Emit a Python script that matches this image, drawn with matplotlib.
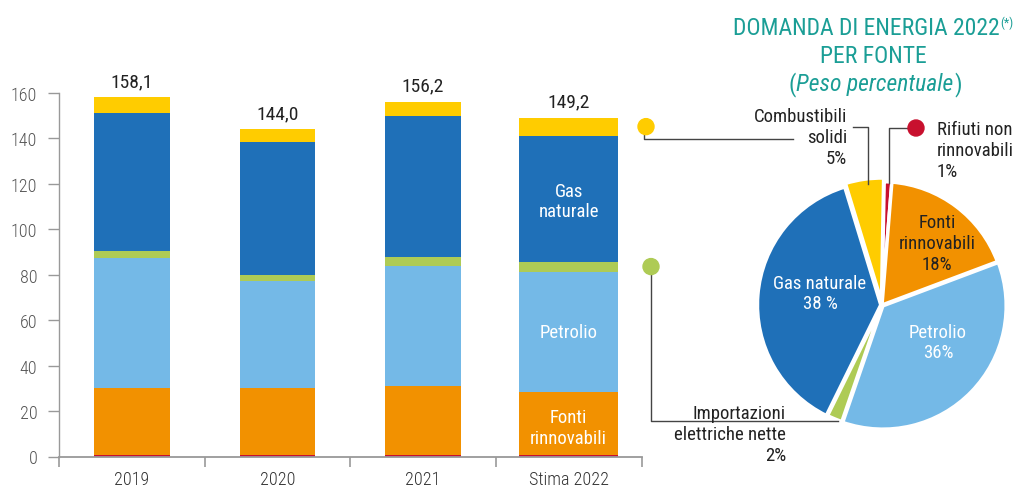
import matplotlib
matplotlib.use("Agg")
import matplotlib.pyplot as plt
from matplotlib import font_manager
from matplotlib.patches import Circle
import numpy as np

# bar chart data (Mtep)
years = ["2019", "2020", "2021", "Stima 2022"]
totals = [158.1, 144.0, 156.2, 149.2]
rifiuti = [0.6, 0.6, 0.6, 0.6]
rinnovabili = [29.5, 29.5, 30.4, 28.0]
petrolio = [57.2, 47.3, 53.0, 52.8]
importazioni = [3.3, 2.5, 4.0, 4.4]
gas = [60.7, 58.7, 61.9, 55.4]
solidi = [6.8, 5.4, 6.3, 8.0]

# pie data, 2022 shares (%)
pie_labels = ["Rifiuti non rinnovabili", "Fonti rinnovabili", "Petrolio",
              "Importazioni elettriche nette", "Gas naturale", "Combustibili solidi"]
pie_pct = [1, 18, 36, 2, 38, 5]

C_RED = "#c8102e"
C_ORANGE = "#f29100"
C_LBLUE = "#74b9e7"
C_GREEN = "#aecb55"
C_DBLUE = "#1f70b8"
C_YELLOW = "#ffcc00"
C_TEAL = "#1b9e96"
C_TEXT = "#222222"

available = {f.name for f in font_manager.fontManager.ttflist}
FONT = next((f for f in ["Roboto Condensed", "Liberation Sans Narrow", "Roboto", "DejaVu Sans"]
             if f in available), "DejaVu Sans")
plt.rcParams["font.family"] = [FONT, "DejaVu Sans"]

W, H = 1016, 489
fig = plt.figure(figsize=(W / 100, H / 100), dpi=100)


def px_box(x0, y0, x1, y1):
    # pixel box with top-left origin -> figure fraction rect
    return [x0 / W, 1 - y1 / H, (x1 - x0) / W, (y1 - y0) / H]


# ---- stacked bars ----
ax = fig.add_axes(px_box(59, 94, 641.5, 457.5))
x = np.arange(len(years))
widths = [0.52, 0.52, 0.52, 0.68]
series = [rifiuti, rinnovabili, petrolio, importazioni, gas, solidi]
colors = [C_RED, C_ORANGE, C_LBLUE, C_GREEN, C_DBLUE, C_YELLOW]
bottom = np.zeros(len(years))
cum = []
for vals, col in zip(series, colors):
    ax.bar(x, vals, width=widths, bottom=bottom, color=col, linewidth=0)
    cum.append(bottom.copy())
    bottom = bottom + np.array(vals)
cum.append(bottom.copy())

for i, tot in enumerate(totals):
    ax.annotate(f"{tot:.1f}".replace(".", ","), xy=(i, tot), xytext=(0, 8),
                textcoords="offset points", ha="center", va="baseline",
                fontsize=14, color=C_TEXT)

ax.set_xlim(-0.5, 3.5)
ax.set_ylim(0, 160)
ax.set_yticks(range(0, 161, 20))
ax.set_xticks(x)
ax.set_xticklabels(years)
ax.set_xticks([-0.5, 0.5, 1.5, 2.5, 3.5], minor=True)
ax.tick_params(axis="x", which="major", length=0, pad=10, labelsize=13, labelcolor="#333333")
ax.tick_params(axis="x", which="minor", length=7, width=1.2, color="#999999")
ax.tick_params(axis="y", length=7.6, width=1.0, color="#999999", pad=8,
               labelsize=13, labelcolor="#555555")
for lab in ax.get_yticklabels() + ax.get_xticklabels():
    lab.set_fontweight("light")
for s in ["top", "right"]:
    ax.spines[s].set_visible(False)
ax.spines["left"].set_color("#999999")
ax.spines["left"].set_linewidth(1.0)
ax.spines["bottom"].set_color("#999999")
ax.spines["bottom"].set_linewidth(1.3)

# labels inside the 2022 bar
j = 3
inner = [((cum[0][j] + cum[2][j]) / 2 - 1.5, "Fonti\nrinnovabili"),
         ((cum[2][j] + cum[3][j]) / 2, "Petrolio"),
         ((cum[4][j] + cum[5][j]) / 2 - 1, "Gas\nnaturale")]
for yv, txt in inner:
    ax.text(j, yv, txt, ha="center", va="center", color="white", fontsize=13.5,
            linespacing=1.2)

# ---- overlay in pixel coordinates for title and connectors ----
ov = fig.add_axes([0, 0, 1, 1])
ov.set_xlim(0, W)
ov.set_ylim(H, 0)
ov.axis("off")


def data_y_px(v):
    return H - ax.transData.transform((0, v))[1]


y_sol = data_y_px((cum[5][j] + cum[6][j]) / 2)
y_imp = data_y_px((cum[3][j] + cum[4][j]) / 2)
LC = "#444444"

# combustibili solidi connector
ov.plot([644, 644, 793], [y_sol, 140, 140], color=LC, lw=1.0)
ov.add_patch(Circle((646, y_sol), 8, color=C_YELLOW, zorder=3))
ov.plot([853, 868, 868], [128, 128, 185], color=LC, lw=1.0)
ov.text(847, 138, "Combustibili\nsolidi\n5%", ha="right", va="center",
        fontsize=13.5, color=C_TEXT, linespacing=1.2)

# rifiuti connector
ov.plot([910, 889, 889], [129, 129, 184], color=LC, lw=1.0)
ov.add_patch(Circle((916, 129), 8, color=C_RED, zorder=3))
ov.text(937, 151, "Rifiuti non\nrinnovabili\n1%", ha="left", va="center",
        fontsize=13.5, color=C_TEXT, linespacing=1.2)

# importazioni connector
ov.plot([651, 651, 838], [y_imp, 422, 422], color=LC, lw=1.0)
ov.add_patch(Circle((651, y_imp), 8, color=C_GREEN, zorder=3))
ov.text(786, 435, "Importazioni\nelettriche nette\n2%", ha="right", va="center",
        fontsize=13.5, color=C_TEXT, linespacing=1.2)

# title
renderer = fig.canvas.get_renderer()
t1 = ov.text(866, 35, "DOMANDA DI ENERGIA 2022", ha="center", va="baseline",
             fontsize=17, color=C_TEAL)
bb = t1.get_window_extent(renderer)
ov.text(bb.x1 + 1, 27, "(*)", ha="left", va="baseline", fontsize=9, color=C_TEAL)
ov.text(873, 63, "PER FONTE", ha="center", va="baseline", fontsize=17, color=C_TEAL)
t3 = ov.text(875, 91, "Peso percentuale", ha="center", va="baseline", fontsize=17,
             style="italic", color=C_TEAL)
bb = t3.get_window_extent(renderer)
ov.text(bb.x0 - 1, 91, "(", ha="right", va="baseline", fontsize=17, color=C_TEAL)
ov.text(bb.x1 + 1, 91, ")", ha="left", va="baseline", fontsize=17, color=C_TEAL)

# ---- pie ----
pax = fig.add_axes(px_box(755, 179, 1009, 433))
pie_colors = [C_RED, C_ORANGE, C_LBLUE, C_GREEN, C_DBLUE, C_YELLOW]
explode = [0, 0, 0.01, 0, 0.01, 0.03]
pax.pie(pie_pct, colors=pie_colors, startangle=89, counterclock=False, explode=explode,
        wedgeprops=dict(edgecolor="white", linewidth=2.5))
pax.set_xlim(-1.03, 1.03)
pax.set_ylim(-1.03, 1.03)

ov.text(937, 244, "Fonti\nrinnovabili\n18%", ha="center", va="center", fontsize=13.5,
        color=C_TEXT, linespacing=1.2, zorder=5)
ov.text(938, 343, "Petrolio\n36%", ha="center", va="center", fontsize=13.5,
        color="white", linespacing=1.2, zorder=5)
ov.text(820, 294, "Gas naturale\n38 %", ha="center", va="center", fontsize=13.5,
        color="white", linespacing=1.2, zorder=5)
ov.set_zorder(3)

fig.savefig("out.png", dpi=100)
